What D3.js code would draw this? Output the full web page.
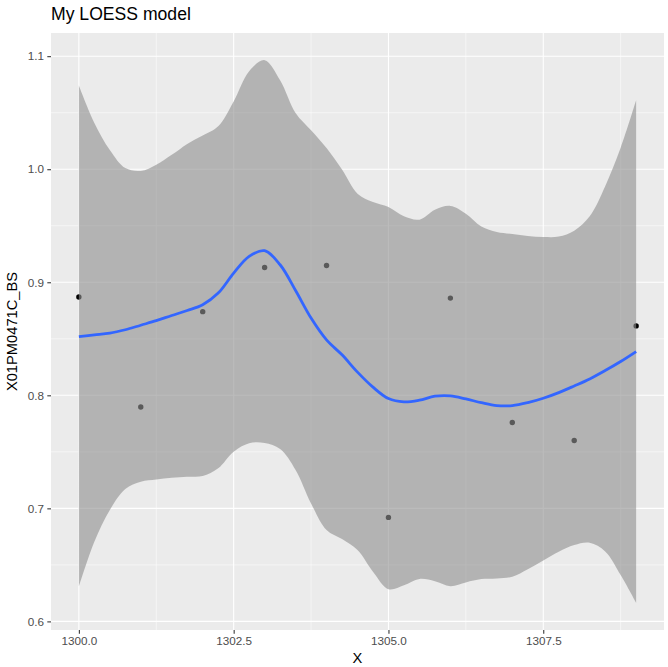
<!DOCTYPE html>
<html>
<head>
<meta charset="utf-8">
<script src="https://cdn.jsdelivr.net/npm/d3@7"></script>
<style>
    body { margin: 0; background: #ffffff; }
    text { font-family: "Liberation Sans", Arial, sans-serif; }
</style>
</head>
<body>
<div class="canvas"></div>
<script>
// observed points
const pointX = [1300, 1301, 1302, 1303, 1304, 1305, 1306, 1307, 1308, 1309];
const pointY = [0.887, 0.7897, 0.874, 0.913, 0.9148, 0.692, 0.886, 0.776, 0.760, 0.8614];

// loess fit + confidence band, every 0.25
const fitX = [1300, 1300.25, 1300.5, 1300.75, 1301, 1301.25, 1301.5, 1301.75, 1302, 1302.25,
    1302.5, 1302.75, 1303, 1303.25, 1303.5, 1303.75, 1304, 1304.25, 1304.5, 1304.75,
    1305, 1305.25, 1305.5, 1305.75, 1306, 1306.25, 1306.5, 1306.75, 1307, 1307.25,
    1307.5, 1307.75, 1308, 1308.25, 1308.5, 1308.75, 1309];
const fitY = [0.852, 0.8535, 0.855, 0.858, 0.862, 0.866, 0.8706, 0.875, 0.8801, 0.8904,
    0.9081, 0.9229, 0.9279, 0.9155, 0.8927, 0.8683, 0.849, 0.8358, 0.8205, 0.8072,
    0.7971, 0.7942, 0.7957, 0.7992, 0.7995, 0.7968, 0.7935, 0.7909, 0.7909, 0.7935,
    0.7974, 0.8024, 0.8083, 0.8145, 0.8219, 0.8299, 0.8387];
const upperY = [1.074, 1.041, 1.017, 1.001, 0.9985, 1.004, 1.0127, 1.0224, 1.0298, 1.038,
    1.060, 1.0867, 1.0965, 1.0788, 1.0498, 1.0345, 1.0188, 0.9997, 0.9784, 0.971,
    0.9666, 0.9583, 0.9554, 0.9642, 0.9675, 0.9607, 0.9494, 0.9445, 0.9427, 0.941,
    0.940, 0.9404, 0.9456, 0.9583, 0.9849, 1.0189, 1.061];
const lowerY = [0.6306, 0.6704, 0.6985, 0.7171, 0.7236, 0.7255, 0.7271, 0.728, 0.7286, 0.7354,
    0.7501, 0.7576, 0.7578, 0.7525, 0.734, 0.7044, 0.6808, 0.6728, 0.6631, 0.6439,
    0.6285, 0.632, 0.6376, 0.6356, 0.6312, 0.6345, 0.6374, 0.638, 0.6395, 0.6462,
    0.6539, 0.6616, 0.6675, 0.6695, 0.6619, 0.641, 0.6164];

const xTicks = [1300, 1302.5, 1305, 1307.5];
const xMinor = [1301.25, 1303.75, 1306.25, 1308.75];
const yTicks = [0.6, 0.7, 0.8, 0.9, 1.0, 1.1];
const yMinor = [0.65, 0.75, 0.85, 0.95, 1.05];

const titleText = "My LOESS model";
const xTitle = "X";
const yTitle = "X01PM0471C_BS";

class LoessChart {
    constructor(svg, spec) {
        this.svg = svg;
        this.spec = spec;
        this.x = this.mapX();
        this.y = this.mapY();
        this.curve = d3.curveCatmullRom.alpha(0.5);
        this.panel = svg.append("g");
        this.initialize();
    }

    // ggplot style 5% expansion on both axes
    mapX() {
        const ext = d3.extent(pointX.concat(fitX));
        const pad = (ext[1] - ext[0]) * 0.05;
        return d3.scaleLinear()
            .domain([ext[0] - pad, ext[1] + pad])
            .range([this.spec.left, this.spec.right]);
    }

    mapY() {
        const ext = d3.extent(pointY.concat(lowerY, upperY));
        const pad = (ext[1] - ext[0]) * 0.05;
        return d3.scaleLinear()
            .domain([ext[0] - pad, ext[1] + pad])
            .range([this.spec.bottom, this.spec.top]);
    }

    initialize() {
        this.addPanel();
        this.addPoints();
        this.addRibbon();
        this.addFit();
        this.addAxes();
        this.addTitles();
    }

    addPanel() {
        const s = this.spec;
        this.svg.append("clipPath").attr("id", "clip")
            .append("rect")
            .attr("x", s.left).attr("y", s.top)
            .attr("width", s.right - s.left).attr("height", s.bottom - s.top);

        this.panel.append("rect")
            .attr("x", s.left).attr("y", s.top)
            .attr("width", s.right - s.left).attr("height", s.bottom - s.top)
            .attr("fill", "#EBEBEB");

        this.panel.selectAll(".ymin").data(yMinor).enter().append("line")
            .attr("x1", s.left).attr("x2", s.right)
            .attr("y1", d => this.y(d)).attr("y2", d => this.y(d))
            .attr("stroke", "#ffffff").attr("stroke-width", 0.53);
        this.panel.selectAll(".xmin").data(xMinor).enter().append("line")
            .attr("y1", s.top).attr("y2", s.bottom)
            .attr("x1", d => this.x(d)).attr("x2", d => this.x(d))
            .attr("stroke", "#ffffff").attr("stroke-width", 0.53);
        this.panel.selectAll(".ymaj").data(yTicks).enter().append("line")
            .attr("x1", s.left).attr("x2", s.right)
            .attr("y1", d => this.y(d)).attr("y2", d => this.y(d))
            .attr("stroke", "#ffffff").attr("stroke-width", 1.07);
        this.panel.selectAll(".xmaj").data(xTicks).enter().append("line")
            .attr("y1", s.top).attr("y2", s.bottom)
            .attr("x1", d => this.x(d)).attr("x2", d => this.x(d))
            .attr("stroke", "#ffffff").attr("stroke-width", 1.07);
    }

    addPoints() {
        this.panel.append("g").attr("clip-path", "url(#clip)")
            .selectAll("circle")
            .data(d3.zip(pointX, pointY))
            .enter()
            .append("circle")
            .attr("cx", d => this.x(d[0]))
            .attr("cy", d => this.y(d[1]))
            .attr("r", 2.7)
            .attr("fill", "#000000");
    }

    addRibbon() {
        const area = d3.area()
            .x(d => this.x(d[0]))
            .y0(d => this.y(d[1]))
            .y1(d => this.y(d[2]))
            .curve(this.curve);
        this.panel.append("path")
            .attr("clip-path", "url(#clip)")
            .attr("d", area(d3.zip(fitX, lowerY, upperY)))
            .attr("fill", "#919191")
            .attr("fill-opacity", 0.62);
    }

    addFit() {
        const line = d3.line()
            .x(d => this.x(d[0]))
            .y(d => this.y(d[1]))
            .curve(this.curve);
        this.panel.append("path")
            .attr("clip-path", "url(#clip)")
            .attr("d", line(d3.zip(fitX, fitY)))
            .attr("fill", "none")
            .attr("stroke", "#3366FF")
            .attr("stroke-width", 2.8)
            .attr("stroke-linejoin", "round");
    }

    addAxes() {
        const s = this.spec;
        const xAxis = d3.axisBottom(this.x).tickValues(xTicks)
            .tickFormat(d3.format(".1f")).tickSize(3.7).tickPadding(3);
        const xg = this.svg.append("g").attr("transform", `translate(0, ${s.bottom})`).call(xAxis);

        const yAxis = d3.axisLeft(this.y).tickValues(yTicks)
            .tickFormat(d3.format(".1f")).tickSize(3.7).tickPadding(3.3);
        const yg = this.svg.append("g").attr("transform", `translate(${s.left}, 0)`).call(yAxis);

        [xg, yg].forEach(g => {
            g.select(".domain").remove();
            g.selectAll(".tick line").attr("stroke", "#333333").attr("stroke-width", 1.07);
            g.selectAll(".tick text")
                .attr("fill", "#4D4D4D")
                .style("font-size", "11.7px")
                .style("font-family", "'Liberation Sans', Arial, sans-serif");
        });
    }

    addTitles() {
        const s = this.spec;
        this.svg.append("text")
            .attr("x", s.left)
            .attr("y", 20)
            .style("font-size", "17.6px")
            .attr("fill", "#000000")
            .text(titleText);

        this.svg.append("text")
            .attr("x", (s.left + s.right) / 2)
            .attr("y", 663)
            .style("font-size", "14.7px")
            .style("text-anchor", "middle")
            .attr("fill", "#000000")
            .text(xTitle);

        this.svg.append("text")
            .attr("transform", "rotate(-90)")
            .attr("x", -(s.top + s.bottom) / 2)
            .attr("y", 17.3)
            .style("font-size", "14.7px")
            .style("text-anchor", "middle")
            .attr("fill", "#000000")
            .text(yTitle);
    }
}

const svg = d3.select(".canvas").append("svg")
    .attr("width", 668)
    .attr("height", 667);

new LoessChart(svg, {left: 51, right: 664, top: 33, bottom: 630});
</script>
</body>
</html>
